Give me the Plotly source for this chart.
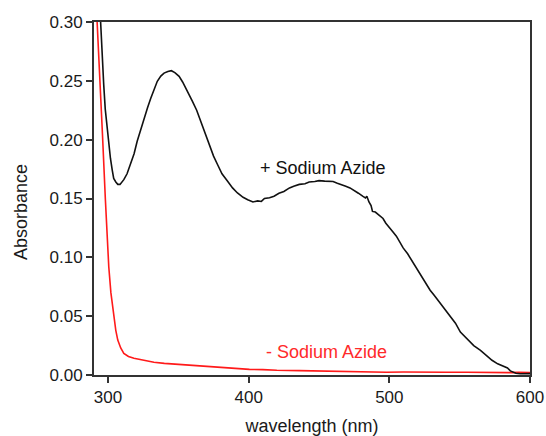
import plotly.graph_objects as go

# + Sodium Azide (black)
wl_plus = [294.5, 295.5, 296.9, 298.0, 299.3, 300.5, 301.7, 303.0, 304.0, 305.5, 306.9, 308.5, 310.0, 311.2,
           313.5, 316.0, 318.5, 320.7, 323.0, 325.5, 328.0, 330.3, 332.5, 335.0, 337.5, 339.8, 342.5, 345.0,
           347.5, 350.5, 353.0, 355.3, 358.0, 360.0, 363.0, 366.0, 369.0, 371.9, 375.0, 377.9, 381.0, 385.0,
           388.5, 392.0, 396.0, 399.3, 403.0, 406.4, 409.0, 411.2, 414.8, 418.0, 421.5, 425.0, 429.0, 432.0,
           436.0, 440.0, 443.0, 447.0, 450.0, 454.0, 457.6, 460.0, 463.0, 466.0, 469.0, 472.0, 475.0, 478.0,
           481.0, 483.0, 484.0, 485.5, 487.0, 488.0, 490.0, 492.0, 493.4, 495.5, 497.5, 500.5, 502.6, 505.0,
           507.5, 509.8, 513.0, 517.0, 520.0, 523.0, 526.0, 529.0, 532.0, 535.0, 538.0, 541.0, 544.0, 547.0,
           550.5, 554.0, 557.0, 560.0, 564.8, 569.0, 573.0, 577.0, 581.0, 584.0, 586.0, 588.0, 590.0, 593.0,
           596.0, 600.0]
abs_plus = [0.305, 0.275, 0.247, 0.226, 0.210, 0.196, 0.184, 0.174, 0.167, 0.164, 0.162, 0.162, 0.164, 0.166,
            0.171, 0.179, 0.188, 0.1986, 0.208, 0.218, 0.227, 0.235, 0.242, 0.2496, 0.254, 0.2566, 0.258, 0.2586,
            0.257, 0.2538, 0.249, 0.2439, 0.238, 0.2326, 0.225, 0.2156, 0.206, 0.1957, 0.186, 0.1787, 0.171, 0.1646,
            0.159, 0.1547, 0.151, 0.149, 0.147, 0.148, 0.1475, 0.150, 0.1507, 0.152, 0.1545, 0.156, 0.159, 0.1605,
            0.162, 0.1625, 0.164, 0.1645, 0.1652, 0.1648, 0.165, 0.1645, 0.163, 0.162, 0.1605, 0.159, 0.157, 0.1545,
            0.152, 0.1505, 0.152, 0.147, 0.144, 0.139, 0.1385, 0.1365, 0.1345, 0.133, 0.129, 0.125, 0.1215, 0.118,
            0.1125, 0.108, 0.103, 0.095, 0.0895, 0.084, 0.078, 0.072, 0.0675, 0.063, 0.058, 0.053, 0.049, 0.044,
            0.0365, 0.032, 0.028, 0.025, 0.021, 0.0165, 0.0125, 0.0095, 0.0072, 0.006, 0.0035, 0.0025, 0.0015, 0.001,
            0.001, 0.0012]

# - Sodium Azide (red)
wl_minus = [292.1, 294.0, 296.0, 298.1, 299.3, 300.5, 302.0, 304.0, 305.5, 306.9, 309.0, 311.2, 314.5, 318.4,
            325.0, 332.6, 340.0, 349.3, 358.0, 364.8, 370.7, 380.0, 390.0, 400.5, 410.0, 420.0, 436.0, 450.0,
            465.0, 480.0, 498.0, 510.0, 525.0, 540.0, 555.0, 565.0, 575.0, 585.0, 592.0, 600.0]
abs_minus = [0.303, 0.260, 0.205, 0.149, 0.118, 0.092, 0.070, 0.0496, 0.038, 0.0297, 0.023, 0.0184, 0.0158, 0.0142,
             0.0125, 0.0108, 0.0099, 0.0091, 0.0082, 0.0076, 0.0071, 0.0062, 0.0055, 0.0048, 0.0046, 0.0040, 0.0037, 0.0033,
             0.0030, 0.0027, 0.0023, 0.0025, 0.0022, 0.0024, 0.0023, 0.0021, 0.0024, 0.0020, 0.0022, 0.0020]

x_ticks = [300, 400, 500, 600]
y_ticks = [0.00, 0.05, 0.10, 0.15, 0.20, 0.25, 0.30]

FONT = "Liberation Sans, Arial, sans-serif"
TXT = "#1a1a1a"

fig = go.Figure()
fig.add_trace(go.Scatter(x=wl_minus, y=abs_minus, mode="lines",
                         line=dict(color="#ff1a1a", width=1.6), showlegend=False))
fig.add_trace(go.Scatter(x=wl_plus, y=abs_plus, mode="lines",
                         line=dict(color="#111111", width=1.6), showlegend=False))

axis_common = dict(showline=True, linecolor="#333333", linewidth=2, mirror=True,
                   ticks="outside", ticklen=6, tickwidth=1.5, tickcolor="#333333",
                   showgrid=False, zeroline=False, automargin=False,
                   tickfont=dict(family=FONT, size=17, color=TXT))

fig.update_xaxes(range=[290, 600], tickvals=x_ticks,
                 title=dict(text="wavelength (nm)", font=dict(family=FONT, size=18, color=TXT), standoff=14),
                 **axis_common)
fig.update_yaxes(range=[0, 0.30], tickvals=y_ticks, tickformat=".2f", **axis_common)

fig.add_annotation(text="+ Sodium Azide", x=453, y=0.1757, xref="x", yref="y", showarrow=False,
                   font=dict(family=FONT, size=18, color="#111111"))
fig.add_annotation(text="- Sodium Azide", x=455, y=0.0193, xref="x", yref="y", showarrow=False,
                   font=dict(family=FONT, size=18, color="#ff2a2a"))
fig.add_annotation(text="Absorbance", textangle=-90, x=(21 - 94) / 436, y=(375 - 212) / 353,
                   xref="paper", yref="paper", showarrow=False, xanchor="center", yanchor="middle",
                   font=dict(family=FONT, size=18, color=TXT))

fig.update_layout(width=546, height=436, margin=dict(l=94, r=16, t=22, b=61),
                  plot_bgcolor="white", paper_bgcolor="white")

fig.write_html("out.html")
